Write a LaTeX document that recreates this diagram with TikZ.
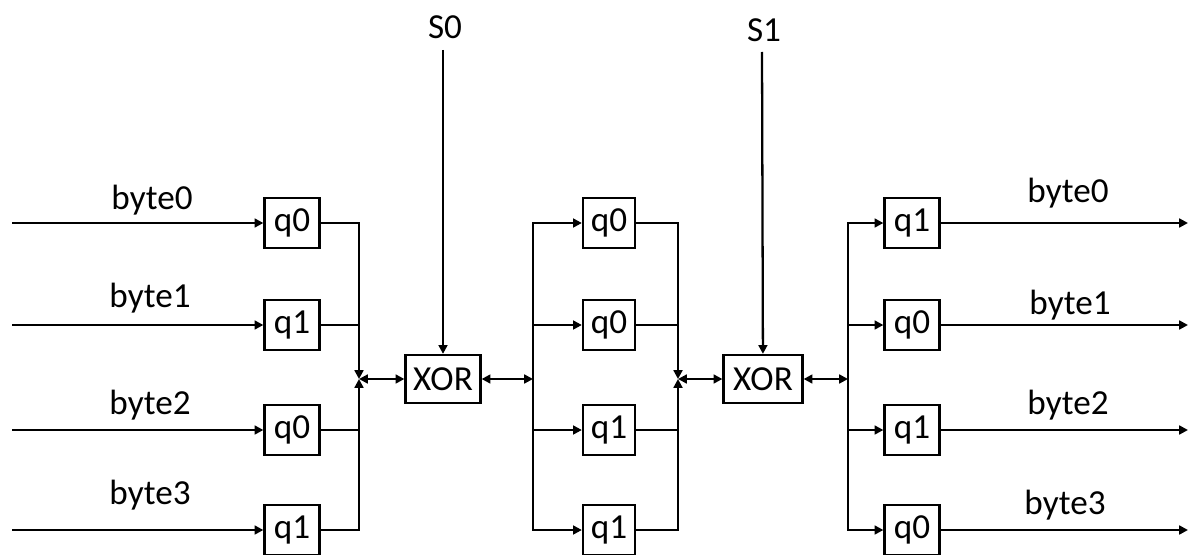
\documentclass[tikz,border=0pt]{standalone}
\usepackage{fontspec}
\setmainfont{Carlito}
\usepackage{tikz}
\usetikzlibrary{positioning,arrows.meta,calc}
\tikzset{
  qbox/.style={draw,line width=1.3pt,minimum width=1.1cm,minimum height=1.0cm,inner sep=0pt,font=\fontsize{20}{24}\selectfont},
  xbox/.style={qbox,minimum width=1.5cm,minimum height=0.96cm},
  lbl/.style={font=\fontsize{20}{24}\selectfont,inner sep=1pt},
  wire/.style={line width=1.3pt},
  ar/.style={wire,-{Triangle[length=5pt,width=5pt]}},
  dar/.style={wire,{Triangle[length=5pt,width=5pt]}-{Triangle[length=5pt,width=5pt]}},
}

\begin{document}
\begin{tikzpicture}[x=0.02cm,y=-0.02cm]
  \useasboundingbox (0,0) rectangle (1192,554);
  % first stage
  \foreach \n/\q/\y in {1/q0/223,2/q1/325,3/q0/430,4/q1/530} {
    \node[qbox] (L\n) at (292,\y) {\q};
    \coordinate (in\n) at (12,\y);
  }
  \node[lbl] (lb0) at (152,200) {byte0};
  \node[lbl] (lb1) at (150,298) {byte1};
  \node[lbl] (lb2) at (150,405) {byte2};
  \node[lbl] (lb3) at (150,495) {byte3};
  \foreach \n in {1,...,4} {\draw[ar] (in\n) -- (L\n);}
  \coordinate (j0) at (359,379);
  \draw[ar] (L1.east) -| (j0);
  \draw[ar] (L4.east) -| (j0);
  \draw[wire] (L2.east) -- (L2.east -| j0);
  \draw[wire] (L3.east) -- (L3.east -| j0);
  % xor 0
  \node[xbox] (X0) at (443,379) {XOR};
  \node[lbl] (s0) at (445,27) {S0};
  \coordinate (s0t) at (443,50);
  \draw[ar] (s0t) -- (X0);
  \draw[dar] (j0) -- (X0);
  % second stage
  \coordinate (j1) at (533,379);
  \coordinate (j2) at (678,379);
  \foreach \n/\q/\y in {1/q0/223,2/q0/325,3/q1/430,4/q1/530} {
    \node[qbox,minimum width=1.04cm] (M\n) at (609,\y) {\q};
  }
  \draw[dar] (X0) -- (j1);
  \draw[ar] (j1) |- (M1);
  \draw[ar] (j1) |- (M4);
  \draw[ar] (M2.west -| j1) -- (M2);
  \draw[ar] (M3.west -| j1) -- (M3);
  \draw[ar] (M1.east) -| (j2);
  \draw[ar] (M4.east) -| (j2);
  \draw[wire] (M2.east) -- (M2.east -| j2);
  \draw[wire] (M3.east) -- (M3.east -| j2);
  % xor 1
  \node[xbox,minimum width=1.58cm] (X1) at (763,379) {XOR};
  \node[lbl] (s1) at (764,30) {S1};
  \coordinate (s1t) at (762,52);
  \draw[ar] (s1t) -- (X1);
  \draw[dar] (j2) -- (X1);
  % third stage
  \coordinate (j3) at (848,379);
  \draw[dar] (X1) -- (j3);
  \foreach \n/\q/\y in {1/q1/223,2/q0/325,3/q1/430,4/q0/530} {
    \node[qbox] (R\n) at (912,\y) {\q};
    \coordinate (out\n) at (1188,\y);
    \draw[ar] (R\n) -- (out\n);
  }
  \draw[ar] (j3) |- (R1);
  \draw[ar] (j3) |- (R4);
  \draw[ar] (R2.west -| j3) -- (R2);
  \draw[ar] (R3.west -| j3) -- (R3);
  \node[lbl] (rb0) at (1068,193) {byte0};
  \node[lbl] (rb1) at (1070,305) {byte1};
  \node[lbl] (rb2) at (1068,405) {byte2};
  \node[lbl] (rb3) at (1065,505) {byte3};
\end{tikzpicture}
\end{document}
